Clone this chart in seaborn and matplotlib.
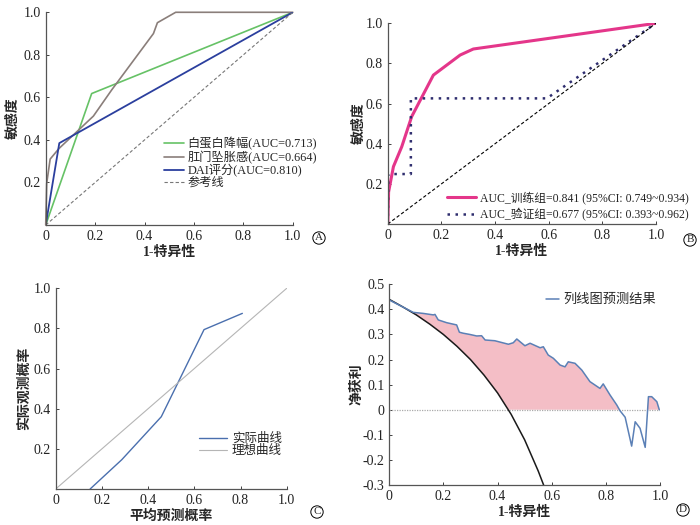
import numpy as np
import pandas as pd
import matplotlib
matplotlib.use('Agg')
import matplotlib.pyplot as plt
import seaborn as sns

# A: ROC of three single indicators
a_alb_x = [0, 0.186, 1.0]
a_alb_y = [0, 0.618, 1.0]
a_anal_x = [0, 0.004, 0.018, 0.054, 0.193, 0.267, 0.436, 0.452, 0.526, 1.0]
a_anal_y = [0, 0.196, 0.31, 0.36, 0.512, 0.635, 0.90, 0.951, 1.0, 1.0]
a_dai_x = [0, 0.055, 1.0]
a_dai_y = [0, 0.385, 1.0]
a_labels = ['白蛋白降幅(AUC=0.713)', '肛门坠胀感(AUC=0.664)', 'DAI评分(AUC=0.810)', '参考线']

# B: ROC of nomogram, training vs validation
b_train_x = [0, 0.003, 0.021, 0.052, 0.089, 0.17, 0.27, 0.319, 1.0]
b_train_y = [0, 0.16, 0.286, 0.385, 0.535, 0.742, 0.842, 0.872, 1.0]
b_valid_x = [0, 0.002, 0.086, 0.086, 0.593, 1.0]
b_valid_y = [0, 0.249, 0.249, 0.626, 0.626, 1.0]
b_labels = ['AUC_训练组=0.841 (95%CI: 0.749~0.934)',
            'AUC_验证组=0.677 (95%CI: 0.393~0.962)']

# C: calibration
c_pred = [0.149, 0.286, 0.457, 0.642, 0.808]
c_obs = [0.0, 0.146, 0.36, 0.794, 0.875]
c_labels = ['实际曲线', '理想曲线']

# D: decision curve
d_model_x = [0, 0.089, 0.125, 0.163, 0.169, 0.181, 0.212, 0.249, 0.259, 0.273,
             0.298, 0.323, 0.341, 0.354, 0.390, 0.44, 0.458, 0.471, 0.483, 0.501,
             0.52, 0.557, 0.569, 0.587, 0.606, 0.631, 0.649, 0.661, 0.686, 0.711,
             0.741, 0.778, 0.79, 0.815, 0.840, 0.852, 0.871, 0.895, 0.908, 0.926,
             0.945, 0.957, 0.969, 0.988, 0.997]
d_model_y = [0.4375, 0.388, 0.384, 0.378, 0.380, 0.358, 0.347, 0.338, 0.309, 0.305,
             0.300, 0.294, 0.295, 0.278, 0.275, 0.261, 0.267, 0.282, 0.271, 0.255,
             0.265, 0.247, 0.251, 0.218, 0.205, 0.178, 0.171, 0.191, 0.185, 0.158,
             0.112, 0.085, 0.103, 0.059, 0.019, -0.004, -0.030, -0.145, -0.048, -0.074,
             -0.150, 0.052, 0.052, 0.032, 0.0]
d_all_x = [0, 0.05, 0.1, 0.15, 0.2, 0.25, 0.3, 0.35, 0.4, 0.45, 0.5, 0.55, 0.57]
d_all_y = [0.44, 0.41, 0.378, 0.341, 0.30, 0.253, 0.20, 0.138, 0.067, -0.018, -0.12, -0.244, -0.30]
d_label = '列线图预测结果'

sns.set_style('ticks')
plt.rcParams['font.family'] = ['Liberation Serif', 'Noto Sans CJK SC']
plt.rcParams['axes.unicode_minus'] = False

fig = plt.figure(figsize=(7, 5.25), dpi=100)
axA = fig.add_axes([0.0653, 0.5714, 0.353, 0.4052])
axB = fig.add_axes([0.554, 0.5733, 0.383, 0.3823])
axC = fig.add_axes([0.0796, 0.0686, 0.330, 0.3823])
axD = fig.add_axes([0.556, 0.0762, 0.387, 0.3823])

def style(ax, yt, ylab, xlab, pad):
    ax.set_xlim(0, 1)
    ax.set_xticks([0, 0.2, 0.4, 0.6, 0.8, 1.0])
    ax.set_xticklabels(['0', '0.2', '0.4', '0.6', '0.8', '1.0'])
    ax.set_yticks(yt)
    ax.set_yticklabels([('%g' % v) if v not in (1.0, 0.5) else '%.1f' % v for v in yt])
    ax.tick_params(direction='in', length=2.5, width=0.6, labelsize=10, colors='#222222')
    for s in ['top', 'right']:
        ax.spines[s].set_visible(False)
    for s in ['left', 'bottom']:
        ax.spines[s].set_color('#555555')
        ax.spines[s].set_linewidth(0.9)
    ax.set_ylabel(ylab, fontsize=10, fontweight='bold', labelpad=pad)
    ax.set_xlabel(xlab, fontsize=10, fontweight='bold', labelpad=2)

# --- A ---
sns.lineplot(x=a_alb_x, y=a_alb_y, ax=axA, color='#66c266', lw=1.2, estimator=None, sort=False, label=a_labels[0])
sns.lineplot(x=a_anal_x, y=a_anal_y, ax=axA, color='#8a7e7a', lw=1.2, estimator=None, sort=False, label=a_labels[1], clip_on=False)
sns.lineplot(x=a_dai_x, y=a_dai_y, ax=axA, color='#2b3f9e', lw=1.3, estimator=None, sort=False, label=a_labels[2])
sns.lineplot(x=[0, 1], y=[0, 1], ax=axA, color='#777777', lw=0.8, linestyle=(0, (3, 2)), estimator=None, label=a_labels[3])
axA.set_ylim(0, 1)
style(axA, [0.2, 0.4, 0.6, 0.8, 1.0], '敏感度', '1-特异性', 3)
axA.legend(loc='upper left', bbox_to_anchor=(0.455, 0.44), frameon=False, fontsize=8.8,
           handlelength=1.6, handletextpad=0.3, labelspacing=0.0, borderpad=0)

# --- B ---
sns.lineplot(x=b_train_x, y=b_train_y, ax=axB, color='#e4368a', lw=2.2, estimator=None, sort=False, label=b_labels[0])
sns.lineplot(x=b_valid_x, y=b_valid_y, ax=axB, color='#2e2d6e', lw=1.8, linestyle=(0, (1, 2.2)), estimator=None, sort=False, label=b_labels[1])
sns.lineplot(x=[0, 1], y=[0, 1], ax=axB, color='black', lw=0.8, linestyle=(0, (3, 2)), estimator=None)
axB.set_ylim(0, 1)
style(axB, [0.2, 0.4, 0.6, 0.8, 1.0], '敏感度', '1-特异性', 0)
handles, labels = axB.get_legend_handles_labels()
axB.legend(handles[:2], labels[:2], loc='lower left', bbox_to_anchor=(0.2, -0.015), frameon=False, fontsize=8.5,
           handlelength=2.4, handletextpad=0.4, labelspacing=0.3, borderpad=0)

# --- C ---
sns.lineplot(x=c_pred, y=c_obs, ax=axC, color='#4a6fae', lw=1.0, marker='s', markersize=3.5,
             markeredgewidth=0.4, estimator=None, sort=False, label=c_labels[0], clip_on=False)
sns.lineplot(x=[0, 1], y=[0, 1], ax=axC, color='#b5b5b5', lw=0.8, estimator=None, label=c_labels[1])
axC.set_ylim(0, 1)
style(axC, [0.2, 0.4, 0.6, 0.8, 1.0], '实际观测概率', '平均预测概率', 2)
hc, lc = axC.get_legend_handles_labels()
for h in hc:
    h.set_marker('')
axC.legend(hc, lc, loc='upper left', bbox_to_anchor=(0.595, 0.31), frameon=False, fontsize=9,
           handlelength=2.2, handletextpad=0.4, labelspacing=0.0, borderpad=0)

# --- D ---
mx = np.array(d_model_x)
my = np.array(d_model_y)
base = np.maximum(np.interp(mx, d_all_x, d_all_y), 0)
axD.fill_between(mx, my, base, where=my > base, interpolate=True, color='#f4bec6', lw=0)
axD.plot([0, 1], [0, 0], color='#aaaaaa', lw=0.9, linestyle=(0, (1, 1)))
sns.lineplot(x=d_all_x, y=d_all_y, ax=axD, color='#1a1a1a', lw=1.1, estimator=None, sort=False)
sns.lineplot(x=d_model_x, y=d_model_y, ax=axD, color='#5b80b6', lw=1.1, estimator=None, sort=False, label=d_label)
axD.set_ylim(-0.3, 0.5)
style(axD, [-0.3, -0.2, -0.1, 0, 0.1, 0.2, 0.3, 0.4, 0.5], '净获利', '1-特异性', -1)
axD.legend(loc='upper left', bbox_to_anchor=(0.555, 0.985), frameon=False, fontsize=9.5,
           handlelength=1.0, handletextpad=0.3, borderpad=0)

# circled panel letters
for px, py, t in [(319, 238, 'A'), (690, 240, 'B'), (317, 512, 'C'), (683, 510, 'D')]:
    fig.text(px / 700, 1 - py / 525, t, fontsize=8, ha='center', va='center',
             bbox=dict(boxstyle='circle,pad=0.15', fc='white', ec='black', lw=0.7))

fig.savefig('out.png', dpi=100)
